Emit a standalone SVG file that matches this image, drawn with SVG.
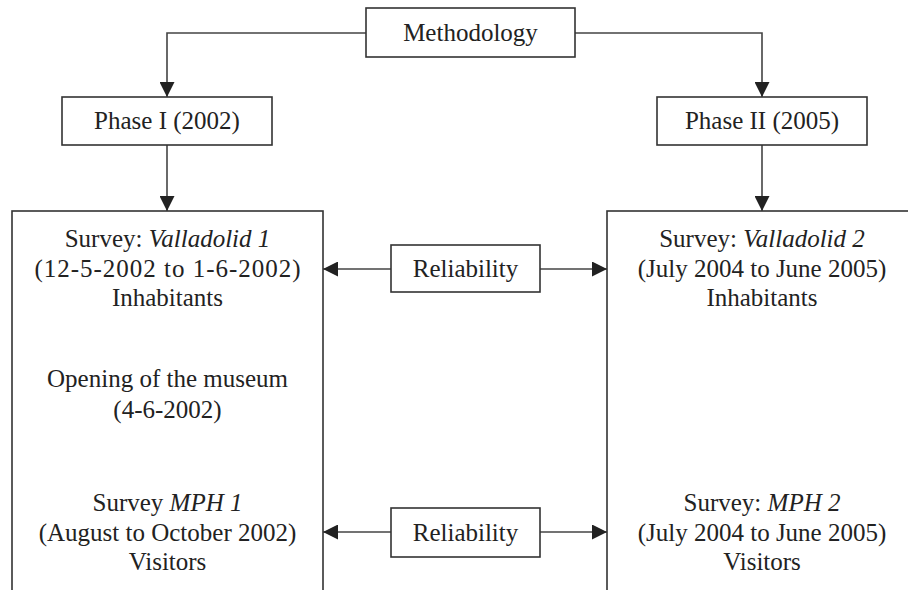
<svg xmlns="http://www.w3.org/2000/svg" width="908" height="590" viewBox="0 0 908 590">
<style>
.box{fill:#fff;stroke:#333;stroke-width:1.6}
.ln{fill:none;stroke:#444;stroke-width:1.6}
text{font-family:"Liberation Serif","Times New Roman",serif;font-size:25px;fill:#222;text-anchor:middle}
.i{font-style:italic}
</style>
<defs>
<marker id="ah" viewBox="0 0 15 15" refX="15" refY="7.5" markerWidth="15" markerHeight="15" markerUnits="userSpaceOnUse" orient="auto-start-reverse">
<path d="M0,0 L15,7.5 L0,15 Z" fill="#222"/>
</marker>
</defs>
<rect width="908" height="590" fill="#fff"/>
<g id="connectors">
<path class="ln" d="M366,33 H167 V97" marker-end="url(#ah)"/>
<path class="ln" d="M575,33 H762 V97" marker-end="url(#ah)"/>
<path class="ln" d="M167,145 V211" marker-end="url(#ah)"/>
<path class="ln" d="M762,145 V211" marker-end="url(#ah)"/>
<path class="ln" d="M391,269 H323" marker-end="url(#ah)"/>
<path class="ln" d="M540,269 H607" marker-end="url(#ah)"/>
<path class="ln" d="M391,532 H323" marker-end="url(#ah)"/>
<path class="ln" d="M540,532 H607" marker-end="url(#ah)"/>
</g>
<g id="methodology">
<rect class="box" x="366" y="8" width="209" height="49"/>
<text x="470.5" y="41">Methodology</text>
</g>
<g id="phase1">
<rect class="box" x="62" y="97" width="210" height="48"/>
<text x="167" y="129">Phase I (2002)</text>
</g>
<g id="phase2">
<rect class="box" x="657" y="97" width="210" height="48"/>
<text x="762" y="129">Phase II (2005)</text>
</g>
<g id="phase1-detail">
<rect class="box" x="12" y="211" width="311" height="400"/>
<text x="167.5" y="247">Survey: <tspan class="i">Valladolid 1</tspan></text>
<text x="167.5" y="277" textLength="266" lengthAdjust="spacing">(12-5-2002 to 1-6-2002)</text>
<text x="167.5" y="306">Inhabitants</text>
<text x="167.5" y="387">Opening of the museum</text>
<text x="167.5" y="418">(4-6-2002)</text>
<text x="167.5" y="511">Survey <tspan class="i">MPH 1</tspan></text>
<text x="167.5" y="541">(August to October 2002)</text>
<text x="167.5" y="570">Visitors</text>
</g>
<g id="phase2-detail">
<rect class="box" x="607" y="211" width="320" height="400"/>
<text x="762" y="247">Survey: <tspan class="i">Valladolid 2</tspan></text>
<text x="762" y="277">(July 2004 to June 2005)</text>
<text x="762" y="306">Inhabitants</text>
<text x="762" y="511">Survey: <tspan class="i">MPH 2</tspan></text>
<text x="762" y="541">(July 2004 to June 2005)</text>
<text x="762" y="570">Visitors</text>
</g>
<g id="reliability1">
<rect class="box" x="391" y="245" width="149" height="47"/>
<text x="465.5" y="277">Reliability</text>
</g>
<g id="reliability2">
<rect class="box" x="391" y="508" width="149" height="49"/>
<text x="465.5" y="541">Reliability</text>
</g>
</svg>
